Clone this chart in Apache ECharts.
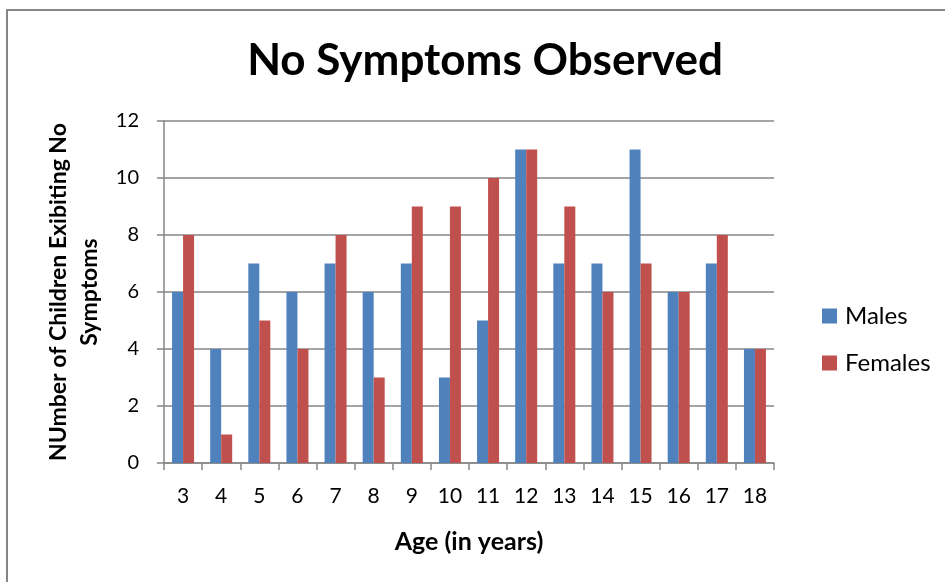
<!DOCTYPE html>
<html>
<head>
<meta charset="utf-8">
<style>
  html, body { margin: 0; padding: 0; background: #fff; }
  #chart { width: 945px; height: 582px; }
</style>
<script src="https://cdn.jsdelivr.net/npm/echarts@6/dist/echarts.min.js"></script>
</head>
<body>
<div id="chart"></div>
<script>
// Ages (in years) along the category axis
const ages = ['3', '4', '5', '6', '7', '8', '9', '10', '11', '12', '13', '14', '15', '16', '17', '18'];
// Children with no symptoms, by age
const males = [6, 4, 7, 6, 7, 6, 7, 3, 5, 11, 7, 7, 11, 6, 7, 4];
const females = [8, 1, 5, 4, 8, 3, 9, 9, 10, 11, 9, 6, 7, 6, 8, 4];
const seriesNames = ['Males', 'Females'];

const FONT = 'Lato, "Open Sans", sans-serif';
const GRID_COLOR = '#868686';

const chart = echarts.init(document.getElementById('chart'), null, { renderer: 'canvas' });

chart.setOption({
  backgroundColor: '#fff',
  animation: false,
  title: {
    text: 'No Symptoms Observed',
    left: 480,
    textAlign: 'center',
    top: 34,
    textStyle: { fontFamily: FONT, fontWeight: 'bold', fontSize: 44, color: '#000' }
  },
  legend: {
    orient: 'vertical',
    left: 817,
    top: 299,
    itemWidth: 15,
    itemHeight: 15,
    itemGap: 23,
    icon: 'rect',
    data: seriesNames,
    textStyle: { fontFamily: FONT, fontSize: 24, color: '#000', padding: [0, 0, 0, 3] }
  },
  grid: { left: 164, right: 171, top: 121, bottom: 119, containLabel: false },
  xAxis: {
    type: 'category',
    data: ages,
    name: 'Age (in years)',
    nameLocation: 'middle',
    nameGap: 66,
    nameTextStyle: { fontFamily: FONT, fontWeight: 'bold', fontSize: 25, color: '#000' },
    axisLine: { lineStyle: { color: GRID_COLOR, width: 1.5 } },
    axisTick: { show: true, length: 7, lineStyle: { color: GRID_COLOR, width: 1.5 } },
    axisLabel: { fontFamily: FONT, fontSize: 21, color: '#000', margin: 23 }
  },
  yAxis: {
    type: 'value',
    min: 0,
    max: 12,
    interval: 2,
    name: 'NUmber of Children Exibiting No\nSymptoms',
    nameLocation: 'middle',
    nameGap: 57,
    nameRotate: 90,
    nameTextStyle: { fontFamily: FONT, fontWeight: 'bold', fontSize: 23, color: '#000', lineHeight: 31, align: 'center' },
    axisLine: { show: true, lineStyle: { color: GRID_COLOR, width: 1.5 } },
    axisTick: { show: true, length: 7, lineStyle: { color: GRID_COLOR, width: 1.5 } },
    axisLabel: { fontFamily: FONT, fontSize: 20, color: '#000', margin: 25 },
    splitLine: { show: true, lineStyle: { color: GRID_COLOR, width: 1.5 } }
  },
  series: [
    {
      name: seriesNames[0],
      type: 'bar',
      data: males,
      barWidth: 11,
      barGap: '0%',
      itemStyle: { color: '#4F81BD' }
    },
    {
      name: seriesNames[1],
      type: 'bar',
      data: females,
      barWidth: 11,
      barGap: '0%',
      itemStyle: { color: '#C0504D' }
    }
  ],
  graphic: [
    {
      type: 'rect',
      shape: { x: 7, y: 10, width: 1200, height: 1200 },
      style: { fill: 'none', stroke: '#868686', lineWidth: 2 },
      silent: true,
      z: 100
    }
  ]
});
</script>
</body>
</html>
